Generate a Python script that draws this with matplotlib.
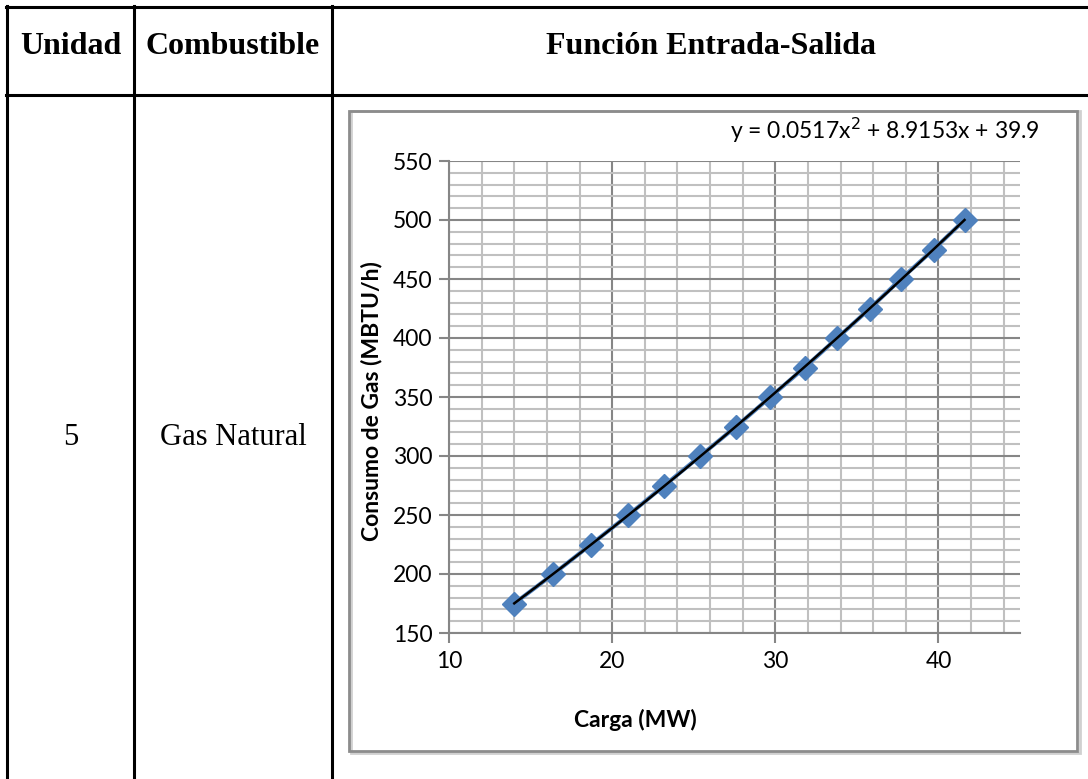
import numpy as np
import matplotlib.pyplot as plt
from matplotlib.lines import Line2D
from matplotlib.patches import Rectangle

# datos
carga = [14.0, 16.4, 18.7, 21.0, 23.2, 25.4, 27.6, 29.7, 31.8, 33.8, 35.8, 37.7, 39.7, 41.6]
consumo = [175, 200, 225, 250, 275, 300, 325, 350, 375, 400, 425, 450, 475, 500]

headers = ['Unidad', 'Combustible', 'Función Entrada-Salida']
unidad = '5'
combustible = 'Gas Natural'

W, H = 1088, 779
fig = plt.figure(figsize=(W / 100, H / 100), dpi=100)

def fx(px):
    return px / W

def fy(py):
    return 1 - py / H

# tabla
serif = 'Liberation Serif'
for xv in [7, 134, 332]:
    fig.add_artist(Line2D([fx(xv), fx(xv)], [fy(6), fy(H)], color='black', lw=2.2))
for yv in [7, 95]:
    fig.add_artist(Line2D([fx(6), 1], [fy(yv), fy(yv)], color='black', lw=2.2))

fig.text(fx(71), fy(47), headers[0], family=serif, weight='bold', fontsize=23, ha='center', va='center')
fig.text(fx(233), fy(47), headers[1], family=serif, weight='bold', fontsize=23, ha='center', va='center')
fig.text(fx(711), fy(47), headers[2], family=serif, weight='bold', fontsize=23, ha='center', va='center')
fig.text(fx(71), fy(437), unidad, family=serif, fontsize=22, ha='center', va='center')
fig.text(fx(233), fy(437), combustible, family=serif, fontsize=22, ha='center', va='center')

# marco del grafico con sombra
fig.add_artist(Rectangle((fx(351), fy(753)), fx(1078) - fx(349), fy(111) - fy(753),
                         fill=False, edgecolor='#d0d0d0', lw=2))
fig.add_artist(Rectangle((fx(349), fy(751)), fx(1077) - fx(349), fy(111) - fy(751),
                         fill=False, edgecolor='#8c8c8c', lw=2))

ax = fig.add_axes([fx(449), fy(633), fx(1020) - fx(449), fy(161) - fy(633)])
sans = 'Lato'

ax.set_xlim(10, 45)
ax.set_ylim(150, 550)
ax.set_xticks([10, 20, 30, 40])
ax.set_xticks(np.arange(10, 46, 2), minor=True)
ax.set_yticks(np.arange(150, 551, 50))
ax.set_yticks(np.arange(150, 551, 10), minor=True)
ax.grid(True, which='minor', color='#c0c0c0', lw=1.5)
ax.grid(True, which='major', color='#868686', lw=1.5)
ax.set_axisbelow(True)
for s in ['top', 'right']:
    ax.spines[s].set_visible(False)
for s in ['left', 'bottom']:
    ax.spines[s].set_color('#868686')
    ax.spines[s].set_linewidth(1.5)
ax.tick_params(which='major', length=7, width=1.5, color='#868686', labelsize=16.5, pad=5)
ax.tick_params(which='minor', length=0)
for lab in ax.get_xticklabels() + ax.get_yticklabels():
    lab.set_family(sans)
ax.tick_params(axis='x', pad=6)

ax.plot(carga, consumo, color='#4f81bd', lw=3, marker='D', markersize=12,
        markerfacecolor='#4f81bd', markeredgecolor='#4f81bd', zorder=3)

# linea de tendencia polinomica (orden 2)
coef = np.polyfit(carga, consumo, 2)
xs = np.linspace(min(carga), max(carga), 200)
ax.plot(xs, np.polyval(coef, xs), color='black', lw=1.8, zorder=4)

ax.set_xlabel('Carga (MW)', family=sans, weight='bold', fontsize=16.5, va='center')
ax.xaxis.set_label_coords(0.327, -0.184)
ax.set_ylabel('Consumo de Gas (MBTU/h)', family=sans, weight='bold', fontsize=16.5, va='center')
ax.yaxis.set_label_coords(-0.135, 0.492)

fig.text(fx(885), fy(130), 'y = 0.0517x$^2$ + 8.9153x + 39.9', family=sans, fontsize=16.5,
         ha='center', va='center')

fig.savefig('out.png', dpi=100)
